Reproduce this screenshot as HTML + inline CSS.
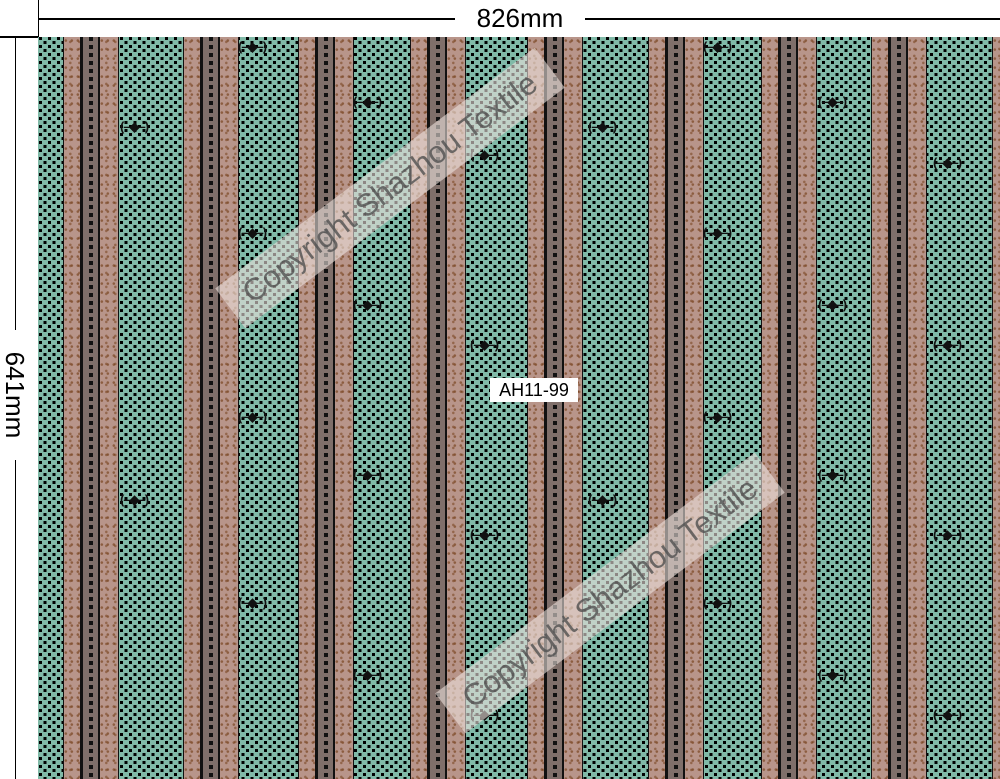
<!DOCTYPE html>
<html><head><meta charset="utf-8"><style>
*{margin:0;padding:0}
body{width:1000px;height:779px;background:#fff;position:relative;overflow:hidden;font-family:"Liberation Sans",sans-serif}
.pat{position:absolute;left:38px;top:37px;width:962px;height:742px;overflow:hidden;background-color:#80b9a7}
.g{position:absolute;top:0;height:742px;width:56px}
.g div{position:absolute;top:0;height:100%}
.pk{background:#b8958a;background-image:radial-gradient(circle at 30% 40%,rgba(110,55,15,.6) 1px,transparent 1.6px),radial-gradient(circle at 70% 70%,rgba(110,55,15,.5) 1px,transparent 1.6px);background-size:6px 9px,9px 7px}
.gr{background:#7f6f6a;background-image:linear-gradient(#111 4px,transparent 4px);background-size:4px 8px;background-repeat:repeat-y;background-position:center 0}
.bk{background:#111}
.orn{position:absolute;font-size:13px;font-weight:bold;color:#111;letter-spacing:-1px;white-space:nowrap}
.wm{position:absolute;width:400px;height:50px;background:rgba(235,225,220,.6);color:rgba(80,80,80,.8);font-size:31px;line-height:50px;text-align:center;transform:rotate(-37deg)}
</style></head><body>
<div style="position:absolute;left:38px;top:0;width:1px;height:37px;background:#000"></div>
<div style="position:absolute;left:38px;top:18px;width:962px;height:2px;background:#000"></div>
<div style="position:absolute;left:0;top:36px;width:39px;height:2px;background:#000"></div>
<div style="position:absolute;left:15px;top:37px;width:1px;height:742px;background:#000"></div>
<div style="position:absolute;left:455px;top:3px;width:130px;height:30px;background:#fff;font-size:26px;text-align:center;line-height:30px">826mm</div>
<div style="position:absolute;left:-50px;top:380px;width:130px;height:30px;background:#fff;font-size:26px;text-align:center;line-height:30px;transform:rotate(90deg)">641mm</div>
<div class="pat">
<svg width="962" height="742" style="position:absolute;left:0;top:0">
<defs><pattern id="d" width="9" height="8" patternUnits="userSpaceOnUse"><rect x="1" y="0" width="3" height="3" fill="#000"/><rect x="5.5" y="4" width="3" height="3" fill="#000"/></pattern></defs>
<rect width="962" height="742" fill="url(#d)"/>
</svg>
<div class="g" style="left:25px"><div class="bk" style="left:0;width:56px"></div><div class="pk" style="left:1px;width:16px"></div><div class="gr" style="left:20px;width:15px"></div><div class="pk" style="left:37px;width:18px"></div></div>
<div class="g" style="left:145px"><div class="bk" style="left:0;width:56px"></div><div class="pk" style="left:1px;width:16px"></div><div class="gr" style="left:20px;width:15px"></div><div class="pk" style="left:37px;width:18px"></div></div>
<div class="g" style="left:260px"><div class="bk" style="left:0;width:56px"></div><div class="pk" style="left:1px;width:16px"></div><div class="gr" style="left:20px;width:15px"></div><div class="pk" style="left:37px;width:18px"></div></div>
<div class="g" style="left:372px"><div class="bk" style="left:0;width:56px"></div><div class="pk" style="left:1px;width:16px"></div><div class="gr" style="left:20px;width:15px"></div><div class="pk" style="left:37px;width:18px"></div></div>
<div class="g" style="left:489px"><div class="bk" style="left:0;width:56px"></div><div class="pk" style="left:1px;width:16px"></div><div class="gr" style="left:20px;width:15px"></div><div class="pk" style="left:37px;width:18px"></div></div>
<div class="g" style="left:610px"><div class="bk" style="left:0;width:56px"></div><div class="pk" style="left:1px;width:16px"></div><div class="gr" style="left:20px;width:15px"></div><div class="pk" style="left:37px;width:18px"></div></div>
<div class="g" style="left:723px"><div class="bk" style="left:0;width:56px"></div><div class="pk" style="left:1px;width:16px"></div><div class="gr" style="left:20px;width:15px"></div><div class="pk" style="left:37px;width:18px"></div></div>
<div class="g" style="left:833px"><div class="bk" style="left:0;width:56px"></div><div class="pk" style="left:1px;width:16px"></div><div class="gr" style="left:20px;width:15px"></div><div class="pk" style="left:37px;width:18px"></div></div>
<div class="g" style="left:954px"><div class="bk" style="left:0;width:56px"></div><div class="pk" style="left:1px;width:16px"></div></div>
<span class="orn" style="left:82px;top:82px">(–◆–)</span>
<span class="orn" style="left:200px;top:2px">(–◆–)</span>
<span class="orn" style="left:315px;top:57px">(–◆–)</span>
<span class="orn" style="left:432px;top:110px">(–◆–)</span>
<span class="orn" style="left:550px;top:82px">(–◆–)</span>
<span class="orn" style="left:665px;top:2px">(–◆–)</span>
<span class="orn" style="left:780px;top:57px">(–◆–)</span>
<span class="orn" style="left:895px;top:118px">(–◆–)</span>
<span class="orn" style="left:200px;top:188px">(–◆–)</span>
<span class="orn" style="left:665px;top:188px">(–◆–)</span>
<span class="orn" style="left:315px;top:260px">(–◆–)</span>
<span class="orn" style="left:780px;top:260px">(–◆–)</span>
<span class="orn" style="left:432px;top:300px">(–◆–)</span>
<span class="orn" style="left:895px;top:300px">(–◆–)</span>
<span class="orn" style="left:200px;top:372px">(–◆–)</span>
<span class="orn" style="left:665px;top:372px">(–◆–)</span>
<span class="orn" style="left:315px;top:430px">(–◆–)</span>
<span class="orn" style="left:780px;top:430px">(–◆–)</span>
<span class="orn" style="left:82px;top:455px">(–◆–)</span>
<span class="orn" style="left:550px;top:455px">(–◆–)</span>
<span class="orn" style="left:432px;top:490px">(–◆–)</span>
<span class="orn" style="left:895px;top:490px">(–◆–)</span>
<span class="orn" style="left:200px;top:558px">(–◆–)</span>
<span class="orn" style="left:665px;top:558px">(–◆–)</span>
<span class="orn" style="left:315px;top:630px">(–◆–)</span>
<span class="orn" style="left:780px;top:630px">(–◆–)</span>
<span class="orn" style="left:432px;top:670px">(–◆–)</span>
<span class="orn" style="left:895px;top:670px">(–◆–)</span>
</div>
<div class="wm" style="left:190px;top:163px">Copyright Shazhou Textile</div>
<div class="wm" style="left:410px;top:568px">Copyright Shazhou Textile</div>
<div style="position:absolute;left:490px;top:378px;width:88px;height:24px;background:#fff;font-size:18px;line-height:24px;text-align:center">AH11-99</div>
</body></html>
